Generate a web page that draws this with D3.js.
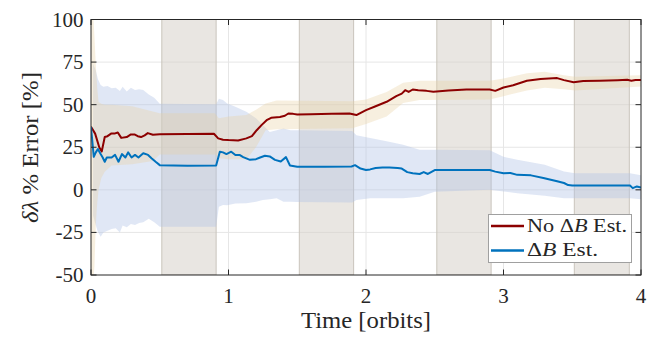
<!DOCTYPE html>
<html>
<head>
<meta charset="utf-8">
<script src="https://cdn.jsdelivr.net/npm/d3@7"></script>
<style>
  html, body { margin: 0; padding: 0; background: #fff; }
  svg { display: block; font-family: "Liberation Serif", "DejaVu Serif", serif; }
</style>
</head>
<body>
<svg id="chart" width="662" height="337"></svg>
<script>
// Estimation error of δλ over time, with and without ΔB estimation.
const xTicks = [0, 1, 2, 3, 4];
const yTicks = [100, 75, 50, 25, 0, -25, -50];

// Shaded intervals (orbits)
const shadeIntervals = [[0.515, 0.91], [1.515, 1.91], [2.515, 2.91], [3.515, 3.915]];

// No ΔB estimation: [time, error %]
const noEstMean = [
  [0,37],[0.03,33],[0.06,25],[0.078,22.5],[0.10,31],[0.12,31.5],[0.146,33],[0.17,33],
  [0.195,33.7],[0.22,30.5],[0.26,31],[0.29,32.5],[0.316,32.5],[0.34,31.5],[0.364,31],
  [0.39,32],[0.413,33.3],[0.45,32.3],[0.5,32.6],[0.7,32.8],[0.894,32.9],[0.925,30.2],
  [0.96,29.4],[1.0,29.2],[1.07,29],[1.13,30.2],[1.17,31.5],[1.205,35],[1.24,38],
  [1.277,40.9],[1.31,42.3],[1.374,42.8],[1.41,43.5],[1.435,44.8],[1.47,44.6],[1.5,44.2],
  [1.6,44.4],[1.75,44.6],[1.88,44.8],[1.93,43.9],[2.0,46.8],[2.07,49.1],[2.15,51.7],
  [2.22,55],[2.26,56.5],[2.285,58.5],[2.31,57.5],[2.34,58.9],[2.38,58.5],[2.44,58.1],
  [2.49,57.6],[2.6,58.3],[2.73,58.9],[2.9,58.9],[2.94,58.1],[3.0,60.1],[3.07,61.4],
  [3.17,64],[3.27,65.1],[3.33,65.4],[3.39,65.6],[3.44,64.4],[3.51,63.2],[3.58,63.9],
  [3.7,64.1],[3.83,64.4],[3.9,64.6],[3.93,64],[3.96,64.5],[4.0,64.5]
];
// No ΔB estimation uncertainty band: [time, upper, lower]
const noEstBand = [
  [0,110,-60],[0.015,105,-55],[0.025,90,-45],[0.035,73,-20],[0.045,60,-8],[0.055,51.6,0],
  [0.075,50.5,7],[0.1,50,10.6],[0.15,50,14.3],[0.3,49,15],[0.45,46,17],[0.5,45,20.8],
  [0.9,45,20.8],[0.93,42,18.6],[1.0,43,18],[1.13,43.9,18],[1.2,47,25],[1.27,50.7,35],
  [1.35,52.5,35.6],[1.9,52,36.2],[2.0,53,38.7],[2.15,57.5,43],[2.27,62.8,51],
  [2.39,64,52.8],[2.9,64,53],[3.0,65.4,55],[3.17,68.4,58.3],[3.3,69.3,60],
  [3.44,67.3,59],[3.52,66.4,58.3],[4.0,67.3,60.6]
];

// ΔB estimation: [time, error %]
const estMean = [
  [0,37],[0.02,19.4],[0.035,22],[0.05,24],[0.07,21],[0.085,19],[0.1,16.5],[0.115,19],
  [0.15,19],[0.175,20.5],[0.2,16.5],[0.225,21],[0.25,19],[0.27,22],[0.295,19],[0.32,20.5],
  [0.345,19],[0.38,21.5],[0.415,20.5],[0.44,18.6],[0.47,16.5],[0.5,14.5],[0.7,14.2],
  [0.91,14.3],[0.937,22.4],[0.96,22],[0.985,21],[1.02,22.4],[1.05,20.5],[1.08,20.5],
  [1.107,19.2],[1.156,17.6],[1.2,18],[1.23,19],[1.265,20],[1.3,19.6],[1.338,17.6],
  [1.38,16.6],[1.418,19.2],[1.447,14.3],[1.5,13.6],[1.7,13.6],[1.895,13.7],[1.92,14.5],
  [1.96,12.5],[2.0,11.6],[2.03,12],[2.07,12.8],[2.12,13.1],[2.17,13.1],[2.23,12.8],
  [2.26,12.5],[2.3,10.4],[2.34,9.7],[2.39,9.3],[2.42,10.4],[2.45,9.3],[2.5,11.6],
  [2.7,11.6],[2.9,11.6],[2.94,10.7],[3.0,9.7],[3.05,9.9],[3.1,8.8],[3.2,8.5],[3.29,7],
  [3.39,5],[3.44,4],[3.47,2.8],[3.5,2.5],[3.7,2.5],[3.92,2.5],[3.94,1],[3.97,2],[4.0,1.4]
];
// ΔB estimation uncertainty band: [time, upper, lower]
const estBand = [
  [0.015,74,-15],[0.035,70,-21],[0.05,65,-24.6],[0.07,61.5,-27.5],[0.09,60.5,-25],
  [0.12,61,-24],[0.15,59.6,-23],[0.18,60,-22.6],[0.21,58,-25],[0.23,60.5,-21],
  [0.26,57.7,-22],[0.29,60,-20],[0.32,58.6,-20.7],[0.35,59,-19.5],[0.38,58.6,-19],
  [0.42,56,-17],[0.46,54,-19],[0.5,50.6,-21.6],[0.7,50.4,-21.6],[0.91,50.2,-21.6],
  [0.93,53.5,-10],[0.96,52.7,-8.9],[0.99,50.7,-9],[1.05,48.8,-8],[1.13,45.8,-7.9],
  [1.2,42,-7],[1.25,38,-6],[1.3,34,-5.6],[1.35,35,-5],[1.4,36,-7],[1.45,35,-7],
  [1.5,35,-7.2],[1.9,34.6,-7.5],[1.93,32,-6],[2.03,30.4,-5],[2.15,28.5,-5],
  [2.27,26.5,-5],[2.39,23.6,-4.1],[2.5,23.6,-1.1],[2.9,23.3,0],[3.0,19.4,-1],
  [3.1,17.6,-2],[3.3,14.7,-3.5],[3.44,10.8,-4.9],[3.52,9.7,-4.9],[3.92,9.7,-4.9],
  [4.0,8.5,-5.5]
];

const legendItems = [
  { pre: "No Δ", it: "B", post: " Est.", color: "#8c0000" },
  { pre: "Δ", it: "B", post: " Est.", color: "#0072bd" }
];

const svg = d3.select("#chart");
const pLeft = 91, pRight = 641, pTop = 19.5, pBottom = 275;

const x = d3.scaleLinear().domain([0, 4]).range([pLeft, pRight]);
const y = d3.scaleLinear().domain([-50, 100]).range([pBottom, pTop]);

svg.append("defs").append("clipPath").attr("id", "plotClip")
  .append("rect").attr("x", pLeft).attr("y", pTop)
  .attr("width", pRight - pLeft).attr("height", pBottom - pTop);

// grid
const grid = svg.append("g");
grid.selectAll("line.gx").data(xTicks.slice(1, -1)).join("line")
  .attr("x1", d => x(d)).attr("x2", d => x(d)).attr("y1", pTop).attr("y2", pBottom)
  .attr("stroke", "#e6e6e6").attr("stroke-width", 1);
grid.selectAll("line.gy").data(yTicks.slice(1, -1)).join("line")
  .attr("x1", pLeft).attr("x2", pRight).attr("y1", d => y(d)).attr("y2", d => y(d))
  .attr("stroke", "#e6e6e6").attr("stroke-width", 1);

const plot = svg.append("g").attr("clip-path", "url(#plotClip)");

// shaded intervals
plot.selectAll("rect.shade").data(shadeIntervals).join("rect")
  .attr("x", d => x(d[0])).attr("width", d => x(d[1]) - x(d[0]))
  .attr("y", pTop).attr("height", pBottom - pTop)
  .attr("fill", "#d3cec6").attr("fill-opacity", 0.5)
  .attr("stroke", "#c9c4bc").attr("stroke-width", 1);

const area = d3.area().x(d => x(d[0])).y0(d => y(d[2])).y1(d => y(d[1]));
plot.append("path").datum(estBand).attr("d", area)
  .attr("fill", "#b2c2e6").attr("fill-opacity", 0.4);
plot.append("path").datum(noEstBand).attr("d", area)
  .attr("fill", "#e8d0a4").attr("fill-opacity", 0.35);

const line = d3.line().x(d => x(d[0])).y(d => y(d[1]));
plot.append("path").datum(noEstMean).attr("d", line)
  .attr("fill", "none").attr("stroke", "#8c0000").attr("stroke-width", 2).attr("stroke-linejoin", "round");
plot.append("path").datum(estMean).attr("d", line)
  .attr("fill", "none").attr("stroke", "#0072bd").attr("stroke-width", 2).attr("stroke-linejoin", "round");

// axes box and inward ticks
const axisColor = "#262626";
const tk = 5.5;
const ax = svg.append("g").attr("stroke", axisColor).attr("stroke-width", 1);
ax.append("rect").attr("x", pLeft).attr("y", pTop).attr("width", pRight - pLeft).attr("height", pBottom - pTop)
  .attr("fill", "none");
ax.selectAll("line.xb").data(xTicks).join("line")
  .attr("x1", d => x(d)).attr("x2", d => x(d)).attr("y1", pBottom).attr("y2", pBottom - tk);
ax.selectAll("line.xt").data(xTicks).join("line")
  .attr("x1", d => x(d)).attr("x2", d => x(d)).attr("y1", pTop).attr("y2", pTop + tk);
ax.selectAll("line.yl").data(yTicks).join("line")
  .attr("x1", pLeft).attr("x2", pLeft + tk).attr("y1", d => y(d)).attr("y2", d => y(d));
ax.selectAll("line.yr").data(yTicks).join("line")
  .attr("x1", pRight).attr("x2", pRight - tk).attr("y1", d => y(d)).attr("y2", d => y(d));

// tick labels
svg.append("g").selectAll("text").data(xTicks).join("text")
  .attr("x", d => x(d)).attr("y", 303).attr("text-anchor", "middle")
  .attr("font-size", 21).attr("fill", axisColor).text(d => d);
svg.append("g").selectAll("text").data(yTicks).join("text")
  .attr("x", 83.5).attr("y", d => y(d) + 7).attr("text-anchor", "end")
  .attr("font-size", 21).attr("fill", axisColor).text(d => d);

// axis labels
svg.append("text").attr("x", 301).attr("y", 328)
  .attr("font-size", 23).attr("fill", axisColor)
  .attr("textLength", 130).attr("lengthAdjust", "spacingAndGlyphs")
  .text("Time [orbits]");
const yl = svg.append("text").attr("transform", "translate(38,223) rotate(-90)")
  .attr("font-size", 23).attr("fill", axisColor)
  .attr("textLength", 151).attr("lengthAdjust", "spacingAndGlyphs");
yl.append("tspan").attr("font-style", "italic").text("δλ");
yl.append("tspan").text(" % Error [%]");

// legend
const lg = svg.append("g");
lg.append("rect").attr("x", 488.5).attr("y", 214.5).attr("width", 143).attr("height", 48)
  .attr("fill", "#fff").attr("stroke", "#a0a0a0").attr("stroke-width", 1);
legendItems.forEach((d, i) => {
  const yy = 226 + i * 24.5;
  lg.append("line").attr("x1", 491).attr("x2", 524).attr("y1", yy).attr("y2", yy)
    .attr("stroke", d.color).attr("stroke-width", 2.5);
  const t = lg.append("text").attr("x", 527).attr("y", yy + 5.5)
    .attr("font-size", 19).attr("fill", axisColor)
    .attr("textLength", i === 0 ? 100 : 71).attr("lengthAdjust", "spacingAndGlyphs");
  t.append("tspan").text(d.pre);
  t.append("tspan").attr("font-style", "italic").text(d.it);
  t.append("tspan").text(d.post);
});
</script>
</body>
</html>
